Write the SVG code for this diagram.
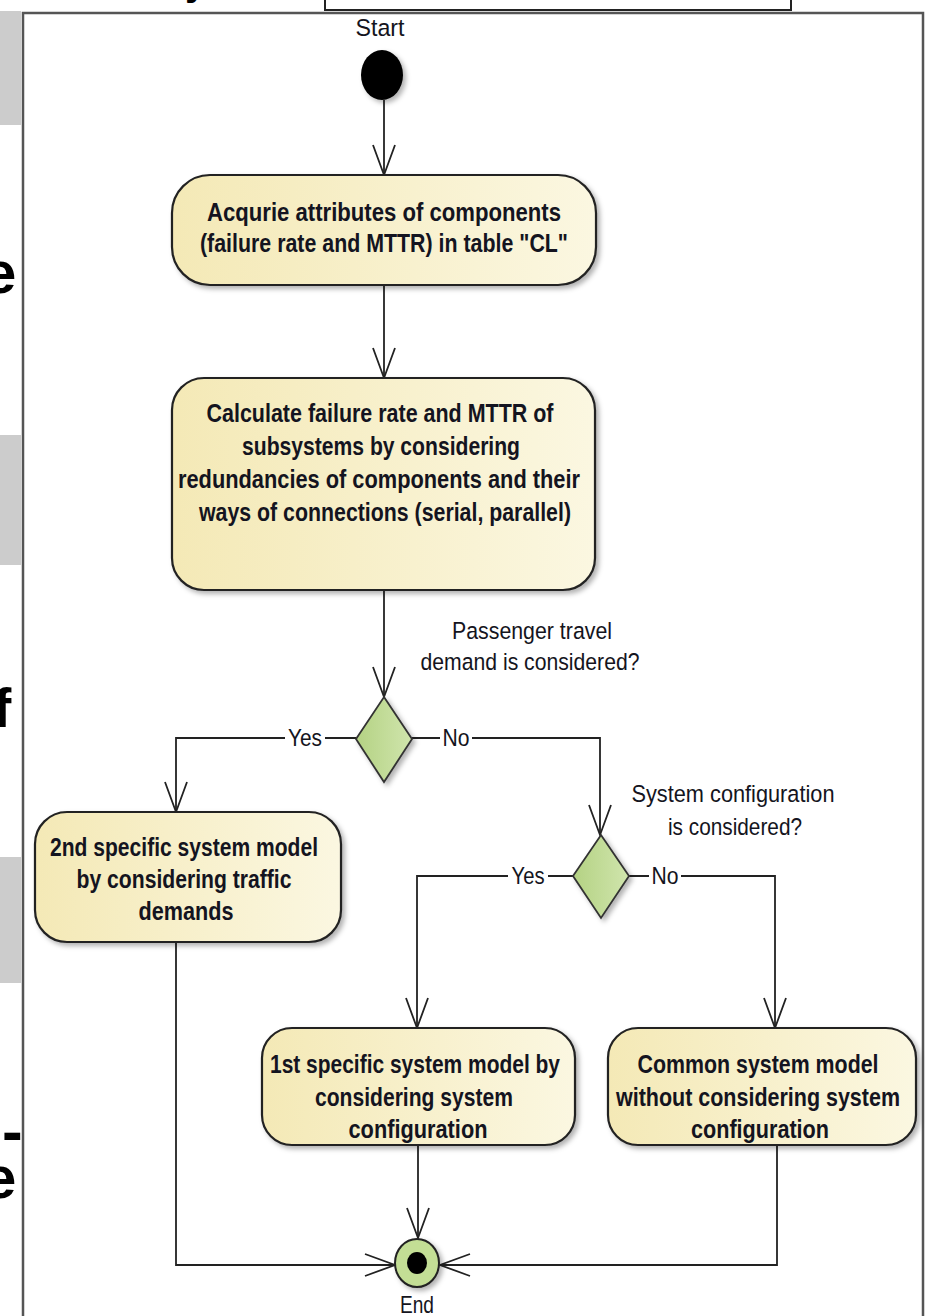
<svg xmlns="http://www.w3.org/2000/svg" width="928" height="1316" viewBox="0 0 928 1316">
<style>
.box{stroke:#222;stroke-width:2.2;fill:url(#boxg);filter:url(#sh)}
.dia{stroke:#333;stroke-width:1.8;fill:url(#diag);filter:url(#sh)}
.t{font-family:"Liberation Sans",Arial,sans-serif;font-weight:bold;font-size:25px;fill:#141420;text-anchor:middle}
.q{font-family:"Liberation Sans",Arial,sans-serif;font-size:24.5px;fill:#141420;text-anchor:middle}
.c{fill:none;stroke:#222;stroke-width:1.8}
.frag{font-family:"Liberation Sans",Arial,sans-serif;font-weight:bold;fill:#000}
</style>
<defs>
<linearGradient id="boxg" x1="0" y1="0" x2="1" y2="0">
<stop offset="0" stop-color="#f4e9b6"/><stop offset="1" stop-color="#fbf7e1"/>
</linearGradient>
<linearGradient id="diag" x1="0" y1="0" x2="1" y2="0">
<stop offset="0" stop-color="#b4d283"/><stop offset="1" stop-color="#d0e5ad"/>
</linearGradient>
<filter id="sh" x="-10%" y="-10%" width="130%" height="130%">
<feDropShadow dx="3" dy="3" stdDeviation="2.5" flood-color="#000" flood-opacity="0.3"/>
</filter>
<marker id="arr" markerUnits="userSpaceOnUse" markerWidth="40" markerHeight="30" refX="31" refY="12" orient="auto" viewBox="0 0 40 30">
<path d="M1,1 L31,12 L1,23" fill="none" stroke="#222" stroke-width="1.8"/>
</marker>
</defs>
<rect width="928" height="1316" fill="#fff"/>

<g id="page-fragments">
<rect x="0" y="11" width="21" height="114" fill="#cccccc"/>
<rect x="0" y="435" width="21" height="130" fill="#cccccc"/>
<rect x="0" y="857" width="21" height="126" fill="#cccccc"/>
<text class="frag" x="-17" y="293" font-size="60">e</text>
<text class="frag" x="-7" y="727" font-size="55">f</text>
<text class="frag" x="2" y="1152" font-size="62">-</text>
<text class="frag" x="-17" y="1198" font-size="60">e</text>
<text class="frag" x="185" y="-5" font-size="40">y</text>
<rect x="325" y="-6" width="466" height="16" fill="#fff" stroke="#222" stroke-width="2"/>
<path d="M23,1316 V13 H923 V1316" fill="none" stroke="#555" stroke-width="2.5"/>
</g>

<g id="connectors">
<path class="c" d="M384,100 V175" marker-end="url(#arr)"/>
<path class="c" d="M384,285 V378" marker-end="url(#arr)"/>
<path class="c" d="M384,590 V697" marker-end="url(#arr)"/>
<path class="c" d="M356,738 H176 V812" marker-end="url(#arr)"/>
<path class="c" d="M412,738 H600 V835" marker-end="url(#arr)"/>
<path class="c" d="M573,876 H417 V1028" marker-end="url(#arr)"/>
<path class="c" d="M629,876 H775 V1028" marker-end="url(#arr)"/>
<path class="c" d="M176,942 V1265 H395" marker-end="url(#arr)"/>
<path class="c" d="M418,1145 V1238" marker-end="url(#arr)"/>
<path class="c" d="M777,1145 V1265 H440" marker-end="url(#arr)"/>
<rect x="285" y="725" width="40" height="25" fill="#fff"/>
<text class="q" x="305" y="746" textLength="34" lengthAdjust="spacingAndGlyphs">Yes</text>
<rect x="440" y="725" width="32" height="25" fill="#fff"/>
<text class="q" x="456" y="746" textLength="27" lengthAdjust="spacingAndGlyphs">No</text>
<rect x="508" y="863" width="40" height="25" fill="#fff"/>
<text class="q" x="528" y="884" textLength="33" lengthAdjust="spacingAndGlyphs">Yes</text>
<rect x="649" y="863" width="32" height="25" fill="#fff"/>
<text class="q" x="665" y="884" textLength="27" lengthAdjust="spacingAndGlyphs">No</text>
</g>

<g id="start">
<text class="q" x="380" y="36" textLength="49" lengthAdjust="spacingAndGlyphs">Start</text>
<ellipse cx="382" cy="75" rx="21" ry="25" fill="#000" filter="url(#sh)"/>
</g>

<g id="acquire">
<rect class="box" x="172" y="175" width="424" height="110" rx="38"/>
<text class="t" x="384" y="221" textLength="354" lengthAdjust="spacingAndGlyphs">Acqurie attributes of components</text>
<text class="t" x="384" y="252" textLength="368" lengthAdjust="spacingAndGlyphs">(failure rate and MTTR) in table "CL"</text>
</g>

<g id="calculate">
<rect class="box" x="172" y="378" width="423" height="212" rx="32"/>
<text class="t" x="380" y="422" textLength="347" lengthAdjust="spacingAndGlyphs">Calculate failure rate and MTTR of</text>
<text class="t" x="381" y="455" textLength="278" lengthAdjust="spacingAndGlyphs">subsystems by considering</text>
<text class="t" x="379" y="488" textLength="402" lengthAdjust="spacingAndGlyphs">redundancies of components and their</text>
<text class="t" x="385" y="521" textLength="372" lengthAdjust="spacingAndGlyphs">ways of connections (serial, parallel)</text>
</g>

<g id="decision-demand">
<text class="q" x="532" y="639" textLength="160" lengthAdjust="spacingAndGlyphs">Passenger travel</text>
<text class="q" x="530" y="670" textLength="219" lengthAdjust="spacingAndGlyphs">demand is considered?</text>
<polygon class="dia" points="384,697 412,739 384,782 356,739"/>
</g>

<g id="decision-config">
<text class="q" x="733" y="802" textLength="203" lengthAdjust="spacingAndGlyphs">System configuration</text>
<text class="q" x="735" y="835" textLength="134" lengthAdjust="spacingAndGlyphs">is considered?</text>
<polygon class="dia" points="601,835 629,876 601,918 573,876"/>
</g>

<g id="model-2nd">
<rect class="box" x="35" y="812" width="306" height="130" rx="32"/>
<text class="t" x="184" y="856" textLength="268" lengthAdjust="spacingAndGlyphs">2nd specific system model</text>
<text class="t" x="184" y="888" textLength="215" lengthAdjust="spacingAndGlyphs">by considering traffic</text>
<text class="t" x="186" y="920" textLength="95" lengthAdjust="spacingAndGlyphs">demands</text>
</g>

<g id="model-1st">
<rect class="box" x="262" y="1028" width="313" height="117" rx="30"/>
<text class="t" x="415" y="1073" textLength="290" lengthAdjust="spacingAndGlyphs">1st specific system model by</text>
<text class="t" x="414" y="1106" textLength="198" lengthAdjust="spacingAndGlyphs">considering system</text>
<text class="t" x="418" y="1138" textLength="139" lengthAdjust="spacingAndGlyphs">configuration</text>
</g>

<g id="model-common">
<rect class="box" x="608" y="1028" width="308" height="117" rx="30"/>
<text class="t" x="758" y="1073" textLength="241" lengthAdjust="spacingAndGlyphs">Common system model</text>
<text class="t" x="758" y="1106" textLength="284" lengthAdjust="spacingAndGlyphs">without considering system</text>
<text class="t" x="760" y="1138" textLength="138" lengthAdjust="spacingAndGlyphs">configuration</text>
</g>

<g id="end">
<ellipse cx="417" cy="1263" rx="22" ry="24" fill="#c3de95" stroke="#222" stroke-width="2" filter="url(#sh)"/>
<ellipse cx="417" cy="1263" rx="10" ry="11" fill="#000"/>
<text class="q" x="417" y="1313" textLength="34" lengthAdjust="spacingAndGlyphs">End</text>
</g>
</svg>
